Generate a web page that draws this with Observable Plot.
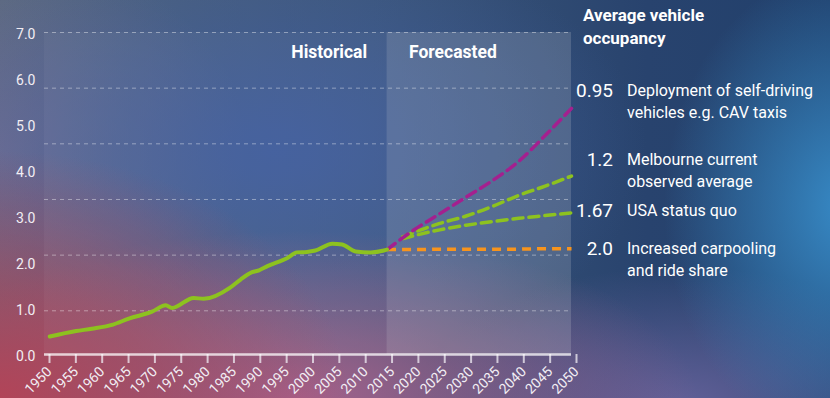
<!DOCTYPE html>
<html>
<head>
<meta charset="utf-8">
<script src="https://cdn.jsdelivr.net/npm/d3@7"></script>
<script src="https://cdn.jsdelivr.net/npm/@observablehq/plot@0.6"></script>
<style>
  html, body { margin: 0; padding: 0; }
  #wrap {
    position: relative; width: 830px; height: 398px; overflow: hidden;
    font-family: Roboto, "Noto Sans", sans-serif; color: #fff;
    background:
      radial-gradient(ellipse 42% 62% at 0% 100%, rgba(178,68,88,1) 0%, rgba(178,68,88,0.6) 45%, rgba(178,68,88,0) 100%),
      radial-gradient(ellipse 48% 42% at 36% 100%, rgba(170,98,140,0.95) 0%, rgba(170,98,140,0) 100%),
      radial-gradient(ellipse 22% 60% at 102% 52%, rgba(55,138,198,1) 0%, rgba(55,138,198,0.5) 50%, rgba(55,138,198,0) 100%),
      radial-gradient(ellipse 32% 35% at 82% 102%, rgba(98,96,152,1) 0%, rgba(98,96,152,0) 100%),
      radial-gradient(ellipse 45% 55% at 33% 38%, rgba(62,92,162,0.85) 0%, rgba(62,92,162,0.4) 55%, rgba(62,92,162,0) 100%),
      radial-gradient(ellipse 30% 50% at 0% 38%, rgba(118,112,145,0.9) 0%, rgba(118,112,145,0) 100%),
      linear-gradient(to right, #56687f 0%, #3d5779 45%, #28436e 78%, #21406c 100%);
  }
  #chart { position: absolute; left: 0; top: 0; }
  #legend { position: absolute; left: 0; top: 0; width: 830px; height: 398px; pointer-events: none; }
  .title { position: absolute; left: 583px; font-weight: 700; font-size: 17px; line-height: 23px; }
  .num { position: absolute; width: 60px; left: 553px; text-align: right; font-size: 19px; }
  .desc { position: absolute; left: 627px; font-size: 16px; line-height: 22px; }
</style>
</head>
<body>
<div id="wrap">
  <div id="chart"></div>
  <div id="legend"></div>
</div>
<script>
// ---- data ----
const histYears  = [1951, 1956, 1959, 1963, 1966, 1970.4, 1973, 1974.2, 1978.3, 1980.2, 1985.3, 1987.2, 1989.4, 1990.7, 1992.3, 1996.1, 1997.9, 1999.8, 2001.4, 2004.6, 2006.5, 2009, 2011.9, 2014.4, 2015];
const histValues = [0.39, 0.51, 0.56, 0.65, 0.78, 0.93, 1.07, 1.01, 1.23, 1.21, 1.46, 1.63, 1.79, 1.83, 1.92, 2.10, 2.22, 2.23, 2.26, 2.41, 2.39, 2.24, 2.22, 2.26, 2.28];

const forecastYears = [2015, 2020, 2025, 2030, 2035, 2040, 2045, 2050];
const cavValues     = [2.28, 2.70, 3.06, 3.42, 3.78, 4.20, 4.76, 5.35];
const carpoolValues = [2.28, 2.28, 2.29, 2.29, 2.29, 2.29, 2.30, 2.30];

const greenYears    = [2018, 2020, 2025, 2030, 2035, 2040, 2045, 2050];
const melbValues    = [2.56, 2.65, 2.85, 3.01, 3.22, 3.46, 3.66, 3.88];
const usaValues     = [2.52, 2.58, 2.71, 2.81, 2.89, 2.96, 3.02, 3.08];

const xTicks = d3.range(1950, 2051, 5);
const yTicks = [0, 1, 2, 3, 4, 5, 6, 7];
const gridValues = [7.0, 5.79, 4.58, 3.37, 2.16, 0.95];

const periods = [
  {label: "Historical", x1: 1950, x2: 2015},
  {label: "Forecasted", x1: 2015, x2: 2050}
];

const legendTitle = ["Average vehicle", "occupancy"];
const occupancy = ["0.95", "1.2", "1.67", "2.0"];
const scenarioLines = [
  ["Deployment of self-driving", "vehicles e.g. CAV taxis"],
  ["Melbourne current", "observed average"],
  ["USA status quo"],
  ["Increased carpooling", "and ride share"]
];

// ---- chart ----
const zip = (xs, ys) => xs.map((x, i) => ({x, y: ys[i]}));
const hist = zip(histYears, histValues);
const cav = zip(forecastYears, cavValues);
const carpool = zip(forecastYears, carpoolValues);
const melb = zip(greenYears, melbValues);
const usa = zip(greenYears, usaValues);

const chart = Plot.plot({
  width: 830, height: 398,
  marginLeft: 44, marginRight: 259, marginTop: 32, marginBottom: 44,
  style: {background: "transparent", color: "#f2eef4", fontFamily: "Roboto, sans-serif", overflow: "visible"},
  x: {domain: [1950, 2050]},
  y: {domain: [0, 7]},
  marks: [
    Plot.rect([periods[0]], {x1: "x1", x2: "x2", y1: 0, y2: 7, fill: "white", fillOpacity: 0.04}),
    Plot.rect([periods[1]], {x1: "x1", x2: "x2", y1: 0, y2: 7, fill: "#e6e6e6", fillOpacity: 0.18}),
    Plot.ruleY(gridValues, {stroke: "white", strokeOpacity: 0.4, strokeDasharray: "4,4", strokeWidth: 1}),
    Plot.axisY({ticks: yTicks, tickSize: 0, tickPadding: 9, dy: 2, tickFormat: d => d.toFixed(1), fontSize: 14, label: null}),
    Plot.axisX({ticks: xTicks, tickSize: 9, tickRotate: -45, tickFormat: d => String(d), fontSize: 14, dx: 5, label: null, strokeWidth: 2, strokeOpacity: 0.75}),
    Plot.ruleY([0], {stroke: "white", strokeWidth: 2.5, strokeOpacity: 0.75}),
    Plot.line(carpool, {x: "x", y: "y", stroke: "#f7941d", strokeWidth: 3.5, strokeDasharray: "9,6", strokeLinecap: "butt"}),
    Plot.line(usa, {x: "x", y: "y", stroke: "#8dc21f", strokeWidth: 3.5, strokeDasharray: "10,6", curve: "monotone-x"}),
    Plot.line(melb, {x: "x", y: "y", stroke: "#8dc21f", strokeWidth: 3.5, strokeDasharray: "10,6", curve: "monotone-x"}),
    Plot.line(cav, {x: "x", y: "y", stroke: "#a4208f", strokeWidth: 3.5, strokeDasharray: "10,6", curve: "monotone-x"}),
    Plot.line(hist, {x: "x", y: "y", stroke: "#8dc21f", strokeWidth: 4, curve: "monotone-x", strokeLinejoin: "round", strokeLinecap: "round"}),
    Plot.text([periods[0]], {x: "x2", y: 6.57, text: "label", textAnchor: "end", dx: -20, fill: "white", fontWeight: 700, fontSize: 17.5}),
    Plot.text([periods[1]], {x: "x1", y: 6.57, text: "label", textAnchor: "start", dx: 22, fill: "white", fontWeight: 700, fontSize: 17.5})
  ]
});
document.getElementById("chart").appendChild(chart);

// ---- legend (HTML overlay) ----
const legend = document.getElementById("legend");
const titleTops = [4, 27];
legendTitle.forEach((t, i) => {
  const d = document.createElement("div");
  d.className = "title"; d.style.top = titleTops[i] + "px"; d.textContent = t;
  legend.appendChild(d);
});
const rowTops = [80, 149, 200, 238];
occupancy.forEach((o, i) => {
  const n = document.createElement("div");
  n.className = "num"; n.style.top = (rowTops[i] - 1) + "px"; n.textContent = o;
  legend.appendChild(n);
  scenarioLines[i].forEach((line, j) => {
    const d = document.createElement("div");
    d.className = "desc"; d.style.top = (rowTops[i] + j * 22) + "px"; d.textContent = line;
    legend.appendChild(d);
  });
});
</script>
</body>
</html>
